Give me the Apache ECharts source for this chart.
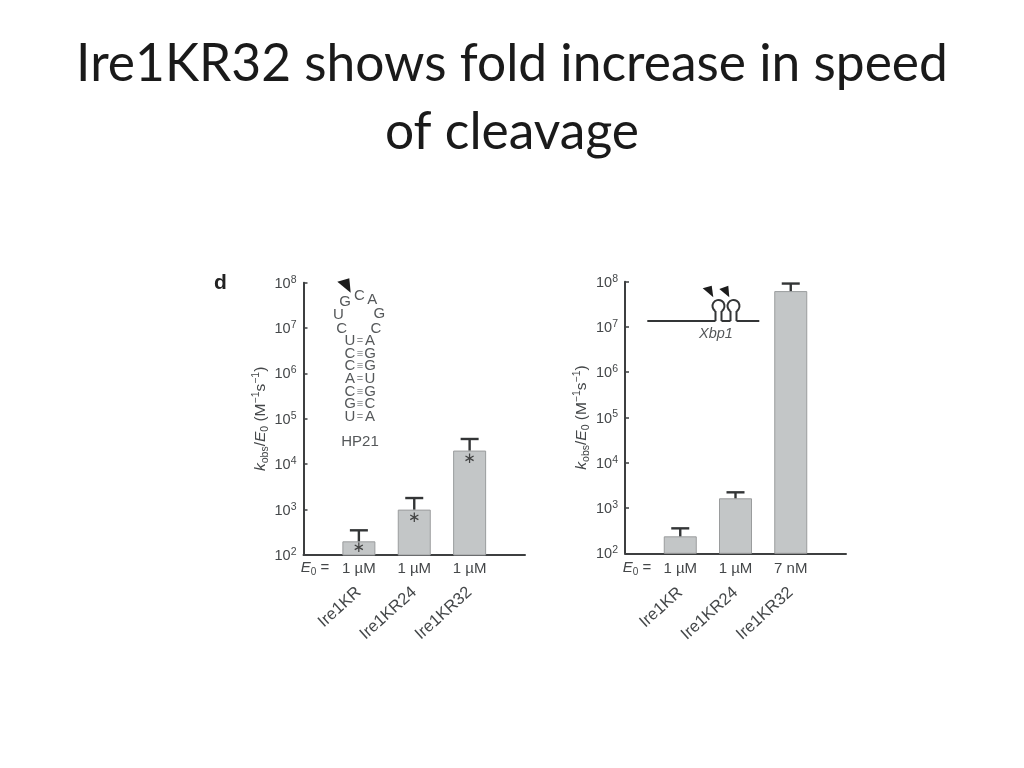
<!DOCTYPE html>
<html><head><meta charset="utf-8">
<style>html,body{margin:0;padding:0;background:#fff}#c{width:1024px;height:768px}</style>
<script src="https://cdn.jsdelivr.net/npm/echarts@6/dist/echarts.min.js"></script>
</head><body><div id="c"></div>
<script>
const titleText = 'Ire1KR32 shows fold increase in speed\nof cleavage';
const categories = ['Ire1KR', 'Ire1KR24', 'Ire1KR32'];
const yExponents = ['2', '3', '4', '5', '6', '7', '8'];
const leftDoses = ['1 µM', '1 µM', '1 µM'];
const rightDoses = ['1 µM', '1 µM', '7 nM'];
const leftValues = [200, 1000, 20000];
const leftErrorTops = [350, 1800, 36000];
const leftStars = [145, 645, 13100];
const rightValues = [237, 1640, 62000000];
const rightErrorTops = [356, 2224, 91000000];

const INK = '#444749', AXIS = '#3d3f40', LETTER = '#55585a';
const FONT = '"Liberation Sans", Arial, sans-serif';
const pad = a => ['', ...a, ''];
const padV = a => ['-', ...a, '-'];

const tickRich = {
  b: { fontSize: 14.5, color: INK, fontFamily: FONT, lineHeight: 17, verticalAlign: 'bottom' },
  s: { fontSize: 10.5, color: INK, fontFamily: FONT, lineHeight: 17, verticalAlign: 'top' }
};
const nameRich = {
  b: { fontSize: 15.5, color: INK, fontFamily: FONT, lineHeight: 20 },
  i: { fontSize: 15.5, color: INK, fontFamily: FONT, fontStyle: 'italic', lineHeight: 20 },
  d: { fontSize: 10.5, color: INK, fontFamily: FONT, lineHeight: 14, verticalAlign: 'bottom' },
  u: { fontSize: 10.5, color: INK, fontFamily: FONT, lineHeight: 14, verticalAlign: 'top' }
};
const yName = '{i|k}{d|obs}{b|/}{i|E}{d|0}{b| (M}{u|−1}{b|s}{u|−1}{b|)}';

function yAxis(gridIndex) {
  return {
    type: 'log', logBase: 10, min: 100, max: 100000000, splitNumber: 6, gridIndex,
    name: yName, nameLocation: 'middle', nameGap: 33, nameRotate: 90,
    nameTextStyle: { rich: nameRich },
    axisLine: { show: true, lineStyle: { color: AXIS, width: 2 } },
    axisTick: { show: true, inside: true, length: 4, lineStyle: { color: AXIS, width: 1.5 } },
    minorTick: { show: false }, splitLine: { show: false }, minorSplitLine: { show: false },
    axisLabel: {
      margin: 7, rich: tickRich,
      formatter: v => '{b|10}{s|' + yExponents[Math.round(Math.log10(v)) - 2] + '}'
    }
  };
}
function doseAxis(gridIndex, doses, margin) {
  return {
    type: 'category', gridIndex, position: 'bottom', boundaryGap: false, data: pad(doses),
    axisLine: { show: true, onZero: false, lineStyle: { color: AXIS, width: 2 } },
    axisTick: { show: false }, splitLine: { show: false },
    axisLabel: { interval: 0, margin, color: INK, fontFamily: FONT, fontSize: 15 }
  };
}
function nameAxis(gridIndex, margin) {
  return {
    type: 'category', gridIndex, position: 'bottom', boundaryGap: false, data: pad(categories),
    axisLine: { show: false }, axisTick: { show: false }, splitLine: { show: false },
    axisLabel: { interval: 0, rotate: 42, margin, color: INK, fontFamily: FONT, fontSize: 16.5 }
  };
}
function barSeries(axis, values) {
  return {
    type: 'bar', xAxisIndex: axis, yAxisIndex: axis, data: padV(values), barWidth: 33, z: 2,
    itemStyle: { color: '#c3c6c7', borderColor: '#9a9c9d', borderWidth: 1 }, silent: true
  };
}
function errorSeries(axis, values, tops) {
  return {
    type: 'custom', xAxisIndex: axis, yAxisIndex: axis, z: 3, silent: true,
    data: values.map((v, i) => [i + 1, v, tops[i]]),
    encode: { x: 0, y: [1, 2] },
    renderItem(params, api) {
      const a = api.coord([api.value(0), api.value(1)]);
      const b = api.coord([api.value(0), api.value(2)]);
      const st = { stroke: '#333536', lineWidth: 2.4, fill: 'none' };
      return { type: 'group', children: [
        { type: 'line', shape: { x1: a[0], y1: a[1], x2: b[0], y2: b[1] }, style: st },
        { type: 'line', shape: { x1: b[0] - 9, y1: b[1], x2: b[0] + 9, y2: b[1] }, style: st }
      ] };
    }
  };
}
function text(x, y, t, o) {
  return { type: 'text', x, y, z: 10, silent: true, style: Object.assign({
    text: t, fill: LETTER, font: '15px ' + FONT, align: 'center', verticalAlign: 'middle' }, o || {}) };
}
function tri(p) {
  return { type: 'polygon', z: 10, silent: true, shape: { points: p }, style: { fill: '#1c1c1c' } };
}
function seg(x1, y1, x2, y2) {
  return { type: 'line', z: 10, silent: true, shape: { x1, y1, x2, y2 }, style: { stroke: '#333536', lineWidth: 2 } };
}
function loop(cx, cy) {
  return { type: 'arc', z: 10, silent: true,
    shape: { cx, cy, r: 6, startAngle: Math.PI * 0.68, endAngle: Math.PI * 0.32, clockwise: true },
    style: { stroke: '#333536', lineWidth: 2, fill: 'none' } };
}
function e0Label(x, y) {
  return { type: 'text', x, y, z: 10, silent: true, style: {
    text: '{i|E}{d|0}{b| =}', align: 'center', verticalAlign: 'middle',
    rich: {
      i: { font: 'italic 15px ' + FONT, fill: INK, lineHeight: 18 },
      b: { font: '15px ' + FONT, fill: INK, lineHeight: 18 },
      d: { font: '10px ' + FONT, fill: INK, lineHeight: 12, verticalAlign: 'bottom' }
    } } };
}

const stemRows = [['U','=','A',341],['C','≡','G',354],['C','≡','G',366.3],['A','=','U',379],['C','≡','G',391.7],['G','≡','C',404],['U','=','A',416.7]];
const graphics = [
  text(220.5, 283, 'd', { font: 'bold 21px ' + FONT, fill: '#222' }),
  tri([[337.3, 281.7], [349.3, 278.3], [350.7, 292.7]]),
  text(345, 301.7, 'G'), text(359.3, 296, 'C'), text(372.3, 300, 'A'),
  text(338.3, 315, 'U'), text(379.3, 314.3, 'G'), text(341.7, 329.3, 'C'), text(376, 329.3, 'C'),
  text(360, 441.7, 'HP21'),
  e0Label(315, 568), e0Label(637, 568),
  seg(647.3, 321, 715.5, 321), seg(715.5, 321, 715.5, 311), seg(721.5, 321, 721.5, 311),
  seg(721.5, 321, 730.5, 321), seg(730.5, 321, 730.5, 311), seg(736.5, 321, 736.5, 311),
  seg(736.5, 321, 759.3, 321),
  loop(718.5, 306), loop(733.5, 306),
  tri([[702.7, 288.3], [711.7, 285.7], [713.3, 297.3]]),
  tri([[719.3, 289], [728.3, 285.7], [729.3, 297.3]]),
  text(716, 334, 'Xbp1', { font: 'italic 14.5px ' + FONT })
];
stemRows.forEach(r => {
  graphics.push(text(350, r[3], r[0]), text(360, r[3], r[1], { font: '11px ' + FONT, fill: '#8a8c8e' }), text(370, r[3], r[2]));
});

const chart = echarts.init(document.getElementById('c'), null, { renderer: 'canvas', width: 1024, height: 768 });
chart.setOption({
  animation: false, backgroundColor: '#ffffff',
  title: { text: titleText, left: 'center', top: 25,
    textStyle: { fontFamily: 'Lato, "Open Sans", sans-serif', fontWeight: 'normal', fontSize: 51.5, color: '#1a1a1a', lineHeight: 68, align: 'center' } },
  grid: [
    { left: 303.5, top: 282.7, width: 221.5, height: 272.3 },
    { left: 625, top: 281.7, width: 221, height: 271.6 }
  ],
  xAxis: [doseAxis(0, leftDoses, 6), doseAxis(1, rightDoses, 8), nameAxis(0, 35), nameAxis(1, 37)],
  yAxis: [yAxis(0), yAxis(1)],
  series: [
    barSeries(0, leftValues), errorSeries(0, leftValues, leftErrorTops),
    { type: 'scatter', xAxisIndex: 0, yAxisIndex: 0, z: 4, silent: true, symbolSize: 1,
      itemStyle: { color: 'transparent' },
      data: leftStars.map((v, i) => [i + 1, v]),
      label: { show: true, position: 'inside', formatter: '∗', fontFamily: '"DejaVu Sans"', fontSize: 15, color: '#222' } },
    barSeries(1, rightValues), errorSeries(1, rightValues, rightErrorTops)
  ],
  graphic: { elements: graphics }
});
</script></body></html>
